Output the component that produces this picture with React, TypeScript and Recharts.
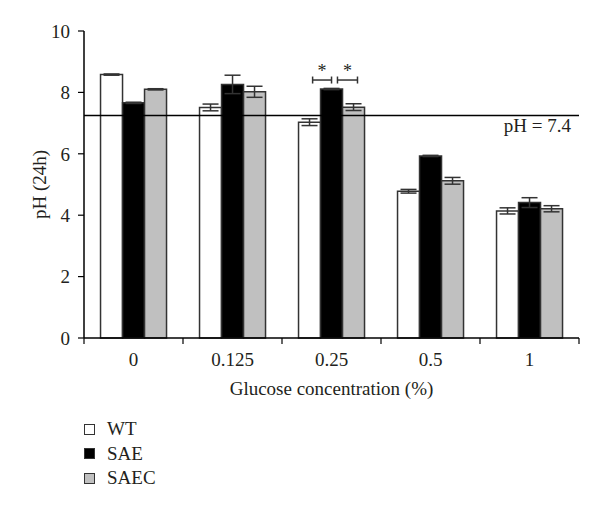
import {
  BarChart,
  Bar,
  XAxis,
  YAxis,
  ErrorBar,
  ReferenceLine,
  LabelList,
} from 'recharts';

const categories = ['0', '0.125', '0.25', '0.5', '1'];
const wt = [8.58, 7.51, 7.03, 4.78, 4.14];
const wtErr = [0.02, 0.11, 0.11, 0.06, 0.1];
const sae = [7.66, 8.26, 8.11, 5.93, 4.41];
const saeErr = [0.02, 0.3, 0.02, 0.02, 0.16];
const saec = [8.1, 8.02, 7.52, 5.12, 4.21];
const saecErr = [0.02, 0.18, 0.11, 0.11, 0.1];
const significant = [false, false, true, false, false];
const yTicks = [0, 2, 4, 6, 8, 10];
const refValue = 7.25;
const refLabel = 'pH = 7.4';

const data = categories.map((name, i) => ({
  name,
  wt: wt[i],
  wtErr: wtErr[i],
  sae: sae[i],
  saeErr: saeErr[i],
  saec: saec[i],
  saecErr: saecErr[i],
  sig: significant[i] ? '*' : '',
}));

const FONT = '"Liberation Serif", "DejaVu Serif", serif';
const INK = '#231f20';
const EDGE = '#333';

// plot box
const LEFT = 84;
const RIGHT = 579;
const BAND = (RIGHT - LEFT) / categories.length;

const XTick = (props: any) => {
  const {x, y, payload, index} = props;
  const left = x - BAND / 2;
  const right = x + BAND / 2;
  return (
    <g>
      <line x1={left} x2={left} y1={y - 6} y2={y} stroke="#000" strokeWidth={1.2} />
      {index === categories.length - 1 && (
        <line x1={right} x2={right} y1={y - 6} y2={y} stroke="#000" strokeWidth={1.2} />
      )}
      <text x={x} y={y + 22} textAnchor="middle" fontFamily={FONT} fontSize={19} fill={INK}>
        {payload.value}
      </text>
    </g>
  );
};

const SigBracket = (props: any) => {
  const {value} = props;
  if (!value) return null;
  const vb = props.viewBox ?? props;
  const x = vb.x;
  const y = vb.y;
  const w = vb.width;
  const by = y - 9;
  const spans = [
    [x - 0.36 * w, x + 0.5 * w],
    [x + 0.77 * w, x + 1.68 * w],
  ];
  return (
    <g>
      {spans.map(([a, b], i) => (
        <g key={i}>
          <line x1={a} x2={b} y1={by} y2={by} stroke={EDGE} strokeWidth={1.5} />
          <line x1={a} x2={a} y1={by - 3.5} y2={by + 3.5} stroke={EDGE} strokeWidth={1.5} />
          <line x1={b} x2={b} y1={by - 3.5} y2={by + 3.5} stroke={EDGE} strokeWidth={1.5} />
          <text x={(a + b) / 2} y={by - 3} textAnchor="middle" fontFamily={FONT} fontSize={18} fill={INK}>
            {value}
          </text>
        </g>
      ))}
    </g>
  );
};

const RefText = (props: any) => {
  const vb = props.viewBox;
  return (
    <text
      x={vb.x + vb.width - 8}
      y={vb.y + 17}
      textAnchor="end"
      fontFamily={FONT}
      fontSize={19}
      fill={INK}>
      {refLabel}
    </text>
  );
};

const YTitle = (props: any) => {
  const vb = props.viewBox;
  const cx = 39;
  const cy = vb.y + vb.height / 2;
  return (
    <text
      x={cx}
      y={cy}
      transform={`rotate(-90 ${cx} ${cy})`}
      textAnchor="middle"
      dominantBaseline="central"
      fontFamily={FONT}
      fontSize={19}
      fill={INK}>
      pH (24h)
    </text>
  );
};

const legendItems = [
  {label: 'WT', fill: '#fff'},
  {label: 'SAE', fill: '#000'},
  {label: 'SAEC', fill: '#c0c0c0'},
];

const LegendBox = () => (
  <div
    style={{
      position: 'absolute',
      left: 84,
      top: 417,
      fontFamily: FONT,
      fontSize: 19,
      color: INK,
    }}>
    {legendItems.map((it) => (
      <div
        key={it.label}
        style={{display: 'flex', alignItems: 'center', height: 24.5}}>
        <span
          style={{
            display: 'inline-block',
            width: 9,
            height: 9,
            background: it.fill,
            border: `1.5px solid ${EDGE}`,
            marginRight: 12,
          }}
        />
        <span>{it.label}</span>
      </div>
    ))}
  </div>
);

export default function App() {
  return (
    <div style={{position: 'absolute', left: 0, top: 0, width: 600, height: 512, background: '#fff'}}>
      <BarChart
        width={600}
        height={512}
        data={data}
        margin={{top: 31, right: 21, bottom: 111, left: 24}}
        barCategoryGap="16.7%"
        barGap={0}>
        <YAxis
          width={60}
          domain={[0, 10]}
          ticks={yTicks}
          interval={0}
          tickSize={6}
          tickMargin={8}
          axisLine={{stroke: '#000', strokeWidth: 1.5}}
          tickLine={{stroke: '#000', strokeWidth: 1.2}}
          tick={{fontFamily: FONT, fontSize: 19, fill: INK}}
          label={{content: YTitle}}
        />
        <XAxis
          dataKey="name"
          height={63}
          tickSize={6}
          tickMargin={0}
          tickLine={false}
          interval={0}
          axisLine={{stroke: '#000', strokeWidth: 1.5}}
          tick={<XTick />}
          label={{
            value: 'Glucose concentration (%)',
            position: 'insideBottom',
            offset: 6,
            style: {fontFamily: FONT, fontSize: 19, fill: INK},
          }}
        />
        <Bar dataKey="wt" fill="#fff" stroke={EDGE} strokeWidth={1.5} isAnimationActive={false}>
          <ErrorBar dataKey="wtErr" width={8} stroke={EDGE} strokeWidth={1.5} />
        </Bar>
        <Bar dataKey="sae" fill="#000" stroke={EDGE} strokeWidth={1.5} isAnimationActive={false}>
          <ErrorBar dataKey="saeErr" width={8} stroke={EDGE} strokeWidth={1.5} />
          <LabelList dataKey="sig" content={SigBracket} />
        </Bar>
        <Bar dataKey="saec" fill="#c0c0c0" stroke={EDGE} strokeWidth={1.5} isAnimationActive={false}>
          <ErrorBar dataKey="saecErr" width={8} stroke={EDGE} strokeWidth={1.5} />
        </Bar>
        <ReferenceLine y={refValue} stroke="#000" strokeWidth={1.5} label={<RefText />} />
      </BarChart>
      <LegendBox />
    </div>
  );
}
